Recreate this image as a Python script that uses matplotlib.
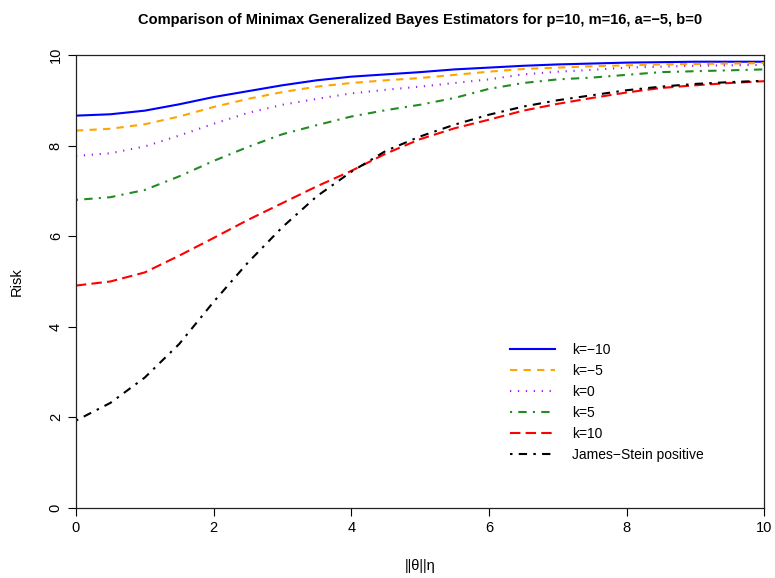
import numpy as np
import matplotlib.pyplot as plt

plt.rcParams['font.family'] = ['Liberation Sans', 'DejaVu Sans']

# ||theta||/eta grid
theta = np.arange(0, 10.01, 0.5)

# risk curves
risk_km10 = [8.66, 8.69, 8.77, 8.91, 9.07, 9.20, 9.33, 9.44, 9.52, 9.57, 9.62,
             9.68, 9.72, 9.76, 9.79, 9.81, 9.83, 9.84, 9.85, 9.85, 9.85]
risk_km5 = [8.33, 8.37, 8.47, 8.64, 8.85, 9.03, 9.18, 9.30, 9.38, 9.44, 9.49,
            9.56, 9.63, 9.69, 9.72, 9.75, 9.77, 9.79, 9.80, 9.81, 9.82]
risk_k0 = [7.77, 7.83, 7.98, 8.22, 8.48, 8.72, 8.90, 9.03, 9.15, 9.23, 9.30,
           9.38, 9.46, 9.57, 9.63, 9.67, 9.72, 9.74, 9.76, 9.77, 9.78]
risk_k5 = [6.80, 6.86, 7.02, 7.32, 7.66, 7.97, 8.25, 8.45, 8.64, 8.78, 8.90,
           9.05, 9.25, 9.38, 9.46, 9.50, 9.56, 9.62, 9.64, 9.66, 9.68]
risk_k10 = [4.91, 5.00, 5.20, 5.57, 5.96, 6.36, 6.73, 7.10, 7.44, 7.82, 8.14,
            8.38, 8.57, 8.77, 8.92, 9.05, 9.17, 9.27, 9.33, 9.38, 9.42]
risk_js = [1.93, 2.32, 2.88, 3.62, 4.55, 5.42, 6.20, 6.88, 7.42, 7.88, 8.20,
           8.46, 8.68, 8.86, 9.00, 9.11, 9.22, 9.30, 9.36, 9.40, 9.43]

labels = ['k=\u221210', 'k=\u22125', 'k=0', 'k=5', 'k=10', 'James\u2212Stein positive']

fig = plt.figure(figsize=(7.75, 5.78), dpi=100)
ax = fig.add_axes([0.098, 0.121, 0.888, 0.784])

lw = 1.5
ax.plot(theta, risk_km10, color='blue', lw=lw, label=labels[0])
ax.plot(theta, risk_km5, color='orange', lw=lw, dashes=(3.5, 3), label=labels[1])
ax.plot(theta, risk_k0, color='#a020f0', lw=lw, dashes=(0.6, 3.2), label=labels[2])
ax.plot(theta, risk_k5, color='#228b22', lw=lw, dashes=(1, 3, 4, 3), label=labels[3])
ax.plot(theta, risk_k10, color='red', lw=lw, dashes=(5, 2.5), label=labels[4])
ax.plot(theta, risk_js, color='black', lw=lw, dashes=(1.2, 3, 4, 3), label=labels[5])

ax.set_xlim(0, 10)
ax.set_ylim(0, 10)
ax.set_xticks([0, 2, 4, 6, 8, 10])
ax.set_yticks([0, 2, 4, 6, 8, 10])
ax.tick_params(direction='out', length=6, labelsize=10.5, width=0.8)
for lab in ax.get_yticklabels():
    lab.set_rotation(90)
    lab.set_va('center')
for s in ax.spines.values():
    s.set_linewidth(0.9)
    s.set_color('#222222')

ax.set_xlabel('||\u03b8||\u03b7', fontsize=10.5, labelpad=17)
ax.set_ylabel('Risk', fontsize=10.5, labelpad=18)
ax.set_title('Comparison of Minimax Generalized Bayes Estimators for p=10, m=16, a=\u22125, b=0',
             fontsize=10.5, fontweight='bold', pad=22)

ax.legend(loc='upper left', bbox_to_anchor=(0.612, 0.392), frameon=False,
          fontsize=10, handlelength=3.3, handletextpad=1.2, labelspacing=0.5)

fig.savefig('out.png', dpi=100)
